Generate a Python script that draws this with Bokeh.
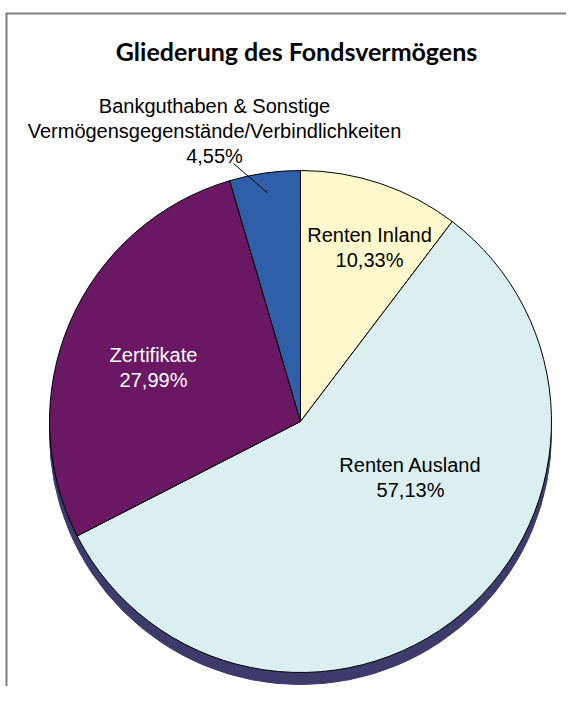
import numpy as np
from bokeh.plotting import figure
from bokeh.models import Range1d
from bokeh.embed import file_html
from bokeh.resources import INLINE
from bokeh.core.properties import value

# ---- data ----
title_text = "Gliederung des Fondsvermögens"
categories = ["Renten Inland", "Renten Ausland", "Zertifikate",
              "Bankguthaben & Sonstige|Vermögensgegenstände/Verbindlichkeiten"]
shares = [10.33, 57.13, 27.99, 4.55]
colors = ["#FFF8CC", "#DBEEF0", "#6A1864", "#2E5FA8"]
text_colors = ["black", "black", "white", "black"]

# ---- layout (picture pixel positions) ----
W, H = 566, 686
cx, cy_img, r = 300, 421, 251
depth = 12
label_pos = [(369, 234), (410, 464), (153, 354), (214, 105)]  # centre x, first baseline (image y)
line_step = 25


def Y(py):
    return H - py


p = figure(width=W, height=H, x_range=Range1d(0, W), y_range=Range1d(0, H),
           output_backend="svg", toolbar_location=None, min_border=0,
           x_axis_location=None, y_axis_location=None)
p.outline_line_color = None
p.xgrid.visible = False
p.ygrid.visible = False
p.background_fill_color = "white"
p.border_fill_color = "white"

# frame (top & left lines)
p.segment(x0=[5, 6], y0=[Y(13), Y(13)], x1=[W, 6], y1=[Y(13), Y(H)],
          line_color="#7F7F7F", line_width=2)

cy = Y(cy_img)
frac = np.array(shares) / np.sum(shares)
cum = np.concatenate([[0.0], np.cumsum(frac)])
start = np.pi / 2 - cum[:-1] * 2 * np.pi
end = np.pi / 2 - cum[1:] * 2 * np.pi

# 3D side
p.circle(x=[cx], y=[cy - depth], radius=r, fill_color="#3D3B6B", line_color="#3D3B6B", line_width=1)
# pie face
p.wedge(x=cx, y=cy, radius=r, start_angle=list(start), end_angle=list(end), direction="clock",
        fill_color=colors, line_color="black", line_width=1)

# leader line for small slice
mid = (start[3] + end[3]) / 2
lx, ly = label_pos[3]
p.segment(x0=[cx + 0.92 * r * np.cos(mid)], y0=[cy + 0.92 * r * np.sin(mid)],
          x1=[lx + 19], y1=[Y(ly + 2 * line_step + 8)], line_color="black", line_width=1)

# labels
xs, ys, txts, tcols = [], [], [], []
for cat, sh, (lx, ly), tc in zip(categories, shares, label_pos, text_colors):
    lines = cat.split("|") + [f"{sh:.2f}".replace(".", ",") + "%"]
    for i, ln in enumerate(lines):
        xs.append(lx)
        ys.append(Y(ly + i * line_step))
        txts.append(ln)
        tcols.append(tc)
p.text(x=xs, y=ys, text=txts, text_color=tcols, text_align="center", text_baseline="alphabetic",
       text_font=value("Liberation Sans"), text_font_size="20px")

# title
p.text(x=[296], y=[Y(50)], text=[title_text], text_align="center", text_baseline="alphabetic",
       text_font=value("Lato"), text_font_style="bold", text_font_size="25px", text_color="black")

open("out.html", "w").write(file_html(p, INLINE))
